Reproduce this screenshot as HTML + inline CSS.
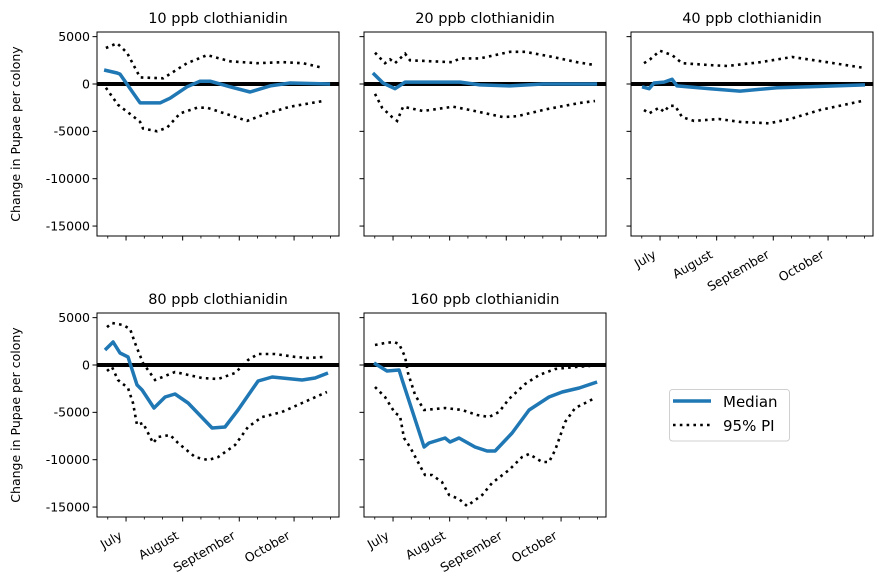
<!DOCTYPE html>
<html><head><meta charset="utf-8"><style>
body{margin:0;background:#fff}
svg{display:block;font-family:"DejaVu Sans","Liberation Sans",sans-serif}
</style></head><body>
<svg id="chart" width="888" height="588" xmlns="http://www.w3.org/2000/svg"></svg>
<script>
// ---- data (x = day index, day 0 = June 1; y = change in pupae per colony)
const panelTitles = ["10 ppb clothianidin","20 ppb clothianidin","40 ppb clothianidin","80 ppb clothianidin","160 ppb clothianidin"];
const monthLabels = ["July","August","September","October"];
const monthDays = [30,61,92,122];
const minorDays = [20,40,50,71,81,102,112,132,142];
const yTicks = [5000,0,-5000,-10000,-15000];

const p1MedDays = [18,25.1,26.7,37.7,48.6,54.1,63.4,70.5,76,87,97.9,108.9,119.8,141.7];
const p1MedVals = [1480,1160,1050,-2000,-2000,-1500,-300,300,300,-300,-850,-200,100,0];
const p1HiDays = [19,25.1,30.5,37.7,50.3,63.4,74.4,87,101.7,116,126.9,137.9];
const p1HiVals = [3800,4300,3300,700,600,2200,3050,2400,2200,2300,2200,1700];
const p1LoDays = [19,25.6,33.8,37.7,39.3,47,52.5,59.6,68.9,74.4,87,96.3,107.2,119.8,137.9];
const p1LoVals = [-400,-2200,-3400,-4000,-4700,-5000,-4600,-3100,-2500,-2500,-3300,-3900,-3100,-2400,-1800];

const p2MedDays = [19,24.5,31.1,36.6,66.7,77.6,94.1,112.1,141.7];
const p2MedVals = [1160,100,-500,200,200,-100,-200,0,0];
const p2HiDays = [20.1,25.6,28.4,31.1,36.6,39.3,62.3,66.7,77.6,94.1,102.3,117.6,130.8,140.6];
const p2HiVals = [3300,2200,2600,2200,3200,2500,2300,2700,2700,3400,3400,2850,2300,2000];
const p2LoDays = [20.1,24,29.5,32.2,35.5,46.4,62.9,72.2,90.2,97.9,114.3,132.4,140.6];
const p2LoVals = [-1050,-2500,-3500,-3900,-2400,-2850,-2400,-2750,-3500,-3400,-2650,-2000,-1800];

const p3MedDays = [20.1,24,26.7,32.2,36.6,39.3,57.4,73.8,94.1,112.1,142.2];
const p3MedVals = [-300,-500,100,200,500,-200,-500,-750,-400,-300,-100];
const p3HiDays = [21.2,24.5,30,36.6,42.1,57.4,66.7,84.8,102.3,121.5,141.7];
const p3HiVals = [2200,2600,3500,3050,2200,2000,1900,2300,2850,2300,1700];
const p3LoDays = [21.2,24,29.5,32.2,35,38.2,42.1,48.6,62.3,73.8,89.7,101.2,117.6,140.6];
const p3LoVals = [-2750,-3100,-2500,-2950,-2300,-2300,-3500,-3900,-3700,-4000,-4150,-3700,-2750,-1800];

const p4MedDays = [18.5,22.9,26.7,31.1,36,38.8,45.3,51.4,56.8,64,77.1,84.2,91.3,102.3,110,126.4,133.5,140.6];
const p4MedVals = [1580,2430,1270,850,-2100,-2640,-4540,-3380,-3060,-4010,-6650,-6550,-4750,-1690,-1270,-1580,-1370,-850];
const p4HiDays = [19.6,22.3,28.4,32.2,34.9,39.3,45.9,56.8,71.6,80.4,89.7,96.8,102.3,111.6,122.6,129.7,139];
const p4HiVals = [4000,4430,4220,3800,2320,210,-1580,-740,-1370,-1480,-850,530,1160,1160,850,740,850];
const p4LoDays = [19.6,22.3,25.6,31.1,33.8,36,39.3,44.8,47.5,54.1,58.5,67.8,74.9,80.4,89.7,96.8,104.5,115.4,126.4,140];
const p4LoVals = [-630,-210,-1580,-2430,-4010,-6340,-6120,-8240,-7600,-7390,-8240,-9720,-10030,-9720,-8450,-6550,-5490,-4960,-4010,-2850];

const p5MedDays = [19.6,26.7,33.3,35,47,49.7,58.5,61.2,66.1,74.9,81.5,85.9,95.2,104.5,115.4,122.6,131.9,141.7];
const p5MedVals = [210,-630,-530,-1580,-8660,-8240,-7710,-8130,-7710,-8660,-9080,-9080,-7180,-4750,-3380,-2850,-2430,-1800];
const p5HiDays = [20.1,25.6,30.5,33.3,36.6,38.2,42.1,47,58.5,67.8,76,82.6,88,93.5,102.3,110,118.8,129.7,137.9];
const p5HiVals = [2110,2320,2430,2220,850,-850,-3170,-4750,-4540,-4750,-5280,-5490,-4960,-3590,-2010,-1060,-420,-210,-100];
const p5LoDays = [20.1,25.6,31.1,33.8,36,39.3,44.8,47.5,51.4,56.8,60.7,66.1,70.5,78.8,84.2,93.5,100.6,104.5,111.6,115.4,118.8,124.2,129.7,135.2,140.6];
const p5LoVals = [-2320,-3380,-5070,-5390,-7710,-8660,-10670,-11620,-11620,-12360,-13730,-14150,-14890,-13730,-12460,-11090,-9720,-9400,-10240,-10240,-8980,-6020,-4540,-4010,-3480];

const seriesByPanel = [
 [p1MedDays,p1MedVals,p1HiDays,p1HiVals,p1LoDays,p1LoVals],
 [p2MedDays,p2MedVals,p2HiDays,p2HiVals,p2LoDays,p2LoVals],
 [p3MedDays,p3MedVals,p3HiDays,p3HiVals,p3LoDays,p3LoVals],
 [p4MedDays,p4MedVals,p4HiDays,p4HiVals,p4LoDays,p4LoVals],
 [p5MedDays,p5MedVals,p5HiDays,p5HiVals,p5LoDays,p5LoVals]
];

// ---- layout
const NS="http://www.w3.org/2000/svg";
const svg=document.getElementById('chart');
function mk(tag,attrs,parent){const e=document.createElementNS(NS,tag);for(const k in attrs)e.setAttribute(k,attrs[k]);(parent||svg).appendChild(e);return e;}
const W=242,H=204;
const lefts=[97,364,631,97,364], tops=[32,32,32,313,313];
const dayMin=14.1, dayMax=146.6, yMin=-16050, yMax=5490;
const showYLabels=[true,false,false,true,false];
const showXLabels=[false,false,true,true,true];

for(let p=0;p<5;p++){
  const L=lefts[p],T=tops[p];
  const xs=d=>L+(d-dayMin)/(dayMax-dayMin)*W;
  const ys=v=>T+(yMax-v)/(yMax-yMin)*H;
  const g=mk('g',{});
  
  
  const clipId='clip'+p;
  const cp=mk('clipPath',{id:clipId},g);mk('rect',{x:L,y:T,width:W,height:H},cp);
  const plot=mk('g',{'clip-path':'url(#'+clipId+')'},g);
  const z=mk('line',{x1:L,x2:L+W,y1:ys(0),y2:ys(0),stroke:'#000','stroke-width':4},plot);
  
  
  const s=seriesByPanel[p];
  const mkPath=(dx,vy)=>dx.map((d,i)=>(i?'L':'M')+xs(d).toFixed(1)+','+ys(vy[i]).toFixed(1)).join('');
  const hi=mk('path',{d:mkPath(s[2],s[3]),fill:'none',stroke:'#000','stroke-width':2.6,'stroke-dasharray':'2.6 4.2'},plot);
  
  
  const lo=mk('path',{d:mkPath(s[4],s[5]),fill:'none',stroke:'#000','stroke-width':2.6,'stroke-dasharray':'2.6 4.2'},plot);
  
  
  const med=mk('path',{d:mkPath(s[0],s[1]),fill:'none',stroke:'#1f77b4','stroke-width':3.5,'stroke-linejoin':'round'},plot);
  
  
  mk('rect',{x:L,y:T,width:W,height:H,fill:'none',stroke:'#000','stroke-width':1},g);
  yTicks.forEach(v=>{
    const y=ys(v);
    mk('line',{x1:L-4.5,x2:L,y1:y,y2:y,stroke:'#000','stroke-width':1},g);
    if(showYLabels[p]){
      const t=mk('text',{x:L-7,y:y+4.3,'text-anchor':'end','font-size':12.5,fill:'#000'},g);
      t.textContent=v;
      
      
    }
  });
  monthDays.forEach((d,i)=>{
    const x=xs(d);
    mk('line',{x1:x,x2:x,y1:T+H,y2:T+H+4.5,stroke:'#000','stroke-width':1},g);
    if(showXLabels[p]){
      const t=mk('text',{transform:'translate('+(x-3)+','+(T+H+21)+') rotate(-30)','text-anchor':'end','font-size':12.5,fill:'#000'},g);
      t.textContent=monthLabels[i];
      
      
    }
  });
  minorDays.forEach(d=>{const x=xs(d);mk('line',{x1:x,x2:x,y1:T+H,y2:T+H+2.5,stroke:'#000','stroke-width':0.8},g);});
  const tt=mk('text',{x:L+W/2,y:T-9,'text-anchor':'middle','font-size':14.5,fill:'#000'},g);
  tt.textContent=panelTitles[p];
  
  
}
[134,415].forEach(cy=>{
  const t=mk('text',{transform:'translate(20,'+cy+') rotate(-90)','text-anchor':'middle','font-size':12.5,fill:'#000'});
  t.textContent='Change in Pupae per colony';
  
  
});
const lg=mk('g',{});


mk('rect',{x:669.5,y:389.5,width:120,height:51.5,rx:3,fill:'#fff',stroke:'#d0d0d0','stroke-width':1},lg);
mk('line',{x1:673,x2:711,y1:401,y2:401,stroke:'#1f77b4','stroke-width':3.5},lg);
mk('line',{x1:673,x2:711,y1:425,y2:425,stroke:'#000','stroke-width':2.6,'stroke-dasharray':'2.6 4.2'},lg);
const l1=mk('text',{x:723,y:407,'font-size':15,fill:'#000'},lg);l1.textContent='Median';


const l2=mk('text',{x:723,y:431,'font-size':15,fill:'#000'},lg);l2.textContent='95% PI';


</script>
</body></html>
